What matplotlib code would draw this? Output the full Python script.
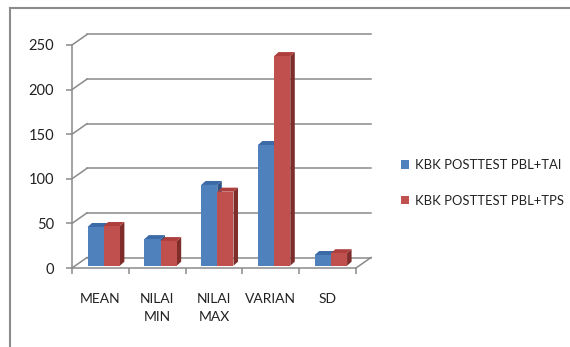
import matplotlib
matplotlib.use("Agg")
import matplotlib.pyplot as plt
from matplotlib.patches import Polygon
from matplotlib.lines import Line2D

# ---- data ----
categories = ["MEAN", "NILAI\nMIN", "NILAI\nMAX", "VARIAN", "SD"]
series_names = ["KBK POSTTEST PBL+TAI", "KBK POSTTEST PBL+TPS"]
pbl_tai = [43.4, 29.8, 90.5, 135.3, 12.0]
pbl_tps = [44.5, 27.6, 83.0, 235.0, 14.0]
y_ticks = [0, 50, 100, 150, 200, 250]

# ---- style ----
FONT = ["Lato", "DejaVu Sans"]
GRID = "#8a8a8a"
TXT = "#222222"
front_cols = ["#4F81BD", "#C0504D"]
top_cols = ["#3B6AA6", "#AE3F3C"]
side_cols = ["#2E5487", "#7F2D2B"]

W, H = 570, 347
fig = plt.figure(figsize=(W / 100, H / 100), dpi=100)
fig.patch.set_facecolor("white")

# plot area (front plane of the 3-D box), in pixels
x_left, x_right = 72, 356
y_top, y_base = 45, 268
ax = fig.add_axes([x_left / W, (H - y_base) / H,
                   (x_right - x_left) / W, (y_base - y_top) / H])
ax.set_xlim(0, len(categories))
ax.set_ylim(0, 250)
ax.patch.set_alpha(0)

# pixel -> data unit conversion for depth offsets
px_x = (x_right - x_left) / len(categories)
px_y = (y_base - y_top) / 250.0


def shift(dx_px, dy_px):
    return dx_px / px_x, dy_px / px_y


# depth of the back wall (pixels)
BACK = (15, 10.5)
bdx, bdy = shift(*BACK)

# back-wall gridlines and the left-wall diagonals
for yv in y_ticks:
    ax.add_line(Line2D([0 + bdx, len(categories) + bdx], [yv + bdy, yv + bdy],
                       color=GRID, lw=1.1, clip_on=False, zorder=1))
    ax.add_line(Line2D([0, bdx], [yv, yv + bdy], color=GRID, lw=1.1,
                       clip_on=False, zorder=1))
# right edge of the floor
ax.add_line(Line2D([len(categories), len(categories) + bdx], [0, bdy],
                   color=GRID, lw=1.1, clip_on=False, zorder=1))

# axes spines / ticks
for s in ["top", "right"]:
    ax.spines[s].set_visible(False)
for s in ["left", "bottom"]:
    ax.spines[s].set_color(GRID)
    ax.spines[s].set_linewidth(1.1)
    ax.spines[s].set_zorder(1)
ax.set_yticks(y_ticks)
ax.set_yticklabels([str(v) for v in y_ticks], fontfamily=FONT, fontsize=10.5,
                   color=TXT)
ax.tick_params(axis="y", length=4, width=1.1, color=GRID, pad=9)
ax.set_xticks(range(len(categories) + 1))
ax.set_xticklabels([])
ax.tick_params(axis="x", which="major", length=4, width=1.1, color=GRID)
ax.set_xticks([i + 0.5 for i in range(len(categories))], minor=True)
ax.set_xticklabels(categories, minor=True, fontfamily=FONT, fontsize=10,
                   color=TXT, linespacing=1.6)
ax.tick_params(axis="x", which="minor", length=0, pad=18)

# ---- 3-D columns ----
F0 = (3.3, 2.3)      # front face offset into the depth (px)
DEPTH = (4.5, 4.0)   # thickness of a column (px)
f0x, f0y = shift(*F0)
ddx, ddy = shift(*DEPTH)
bar_w = 0.285
handles = []
for j, vals in enumerate([pbl_tai, pbl_tps]):
    xs = [i + 0.5 + (j - 1) * bar_w for i in range(len(categories))]
    for x0, v in zip(xs, vals):
        X0, Y0 = x0 + f0x, f0y
        X1, Y1 = X0 + bar_w, Y0 + v
        side = Polygon([(X1, Y0), (X1, Y1), (X1 + ddx, Y1 + ddy), (X1 + ddx, Y0 + ddy)],
                       closed=True, fc=side_cols[j], ec="none", clip_on=False,
                       zorder=3 + j)
        top = Polygon([(X0, Y1), (X1, Y1), (X1 + ddx, Y1 + ddy), (X0 + ddx, Y1 + ddy)],
                      closed=True, fc=top_cols[j], ec="none", clip_on=False,
                      zorder=3 + j)
        ax.add_patch(side)
        ax.add_patch(top)
    bars = ax.bar([x + f0x for x in xs], vals, width=bar_w, bottom=f0y,
                  align="edge", color=front_cols[j], edgecolor="none",
                  zorder=3 + j, clip_on=False, label=series_names[j])
    handles.append(bars)

leg = fig.legend(handles=handles, labels=series_names, loc="upper left",
                 bbox_to_anchor=(401 / W, 1 - 159 / H), frameon=False,
                 borderpad=0, borderaxespad=0,
                 prop={"family": FONT, "size": 9.4}, handlelength=0.6,
                 handleheight=0.6, handletextpad=0.45, labelspacing=1.8)
for t in leg.get_texts():
    t.set_color(TXT)

# chart frame (top and left edges)
fig.add_artist(Line2D([10 / W, 1], [1 - 8 / H, 1 - 8 / H], transform=fig.transFigure,
                      color="#8c8c8c", lw=1.5))
fig.add_artist(Line2D([10 / W, 10 / W], [0, 1 - 8 / H], transform=fig.transFigure,
                      color="#8c8c8c", lw=1.5))

fig.savefig("out.png", dpi=100, facecolor="white")
